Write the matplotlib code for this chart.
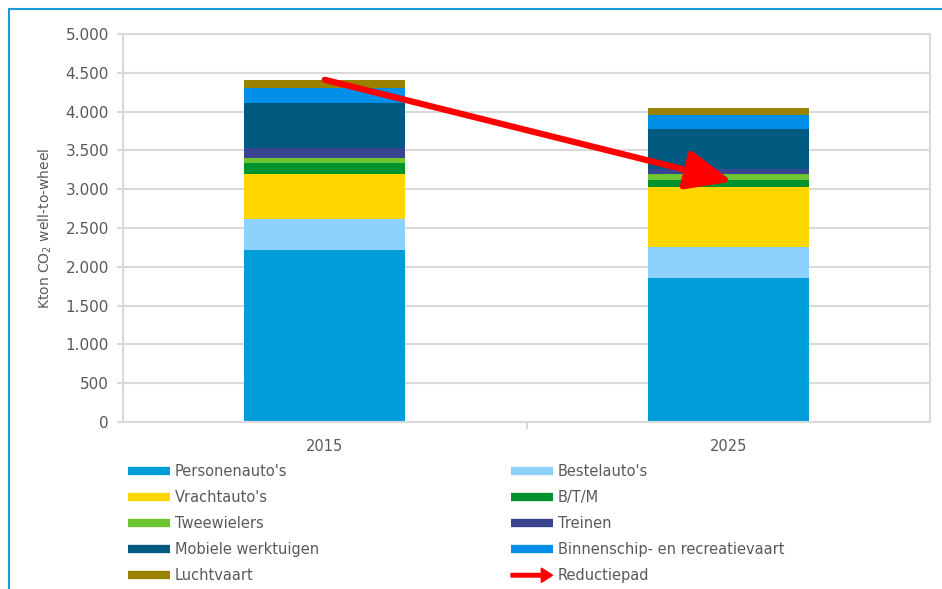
import matplotlib.pyplot as plt
import matplotlib.patches as mpatches
from matplotlib.lines import Line2D
from matplotlib.legend_handler import HandlerPatch
import numpy as np

years = ['2015', '2025']
categories = ["Personenauto's", "Bestelauto's", "Vrachtauto's", "B/T/M", "Tweewielers",
              "Treinen", "Mobiele werktuigen", "Binnenschip- en recreatievaart", "Luchtvaart"]
personenautos = [2222, 1850]
bestelautos = [394, 400]
vrachtautos = [585, 777]
btm = [137, 96]
tweewielers = [69, 68]
treinen = [124, 68]
mobiele_werktuigen = [576, 521]
binnenschip = [202, 175]
luchtvaart = [94, 96]
colors = ['#009ed8', '#8dd1fc', '#fed700', '#00922e', '#6cc531',
          '#3a4592', '#005a80', '#0090e8', '#9a8200']

# reductiepad: start op top 2015, eind in 2025
reductie_start = 4410
reductie_end = 3100

series = [personenautos, bestelautos, vrachtautos, btm, tweewielers,
          treinen, mobiele_werktuigen, binnenschip, luchtvaart]

grey_text = '#595959'
grid_col = '#d9d9d9'

fig = plt.figure(figsize=(9.42, 5.89), dpi=100)
ax = fig.add_axes([123 / 942, 1 - 422 / 589, (930 - 123) / 942, (422 - 34) / 589])

x = np.arange(len(years))
bottom = np.zeros(len(years))
for vals, col, lab in zip(series, colors, categories):
    ax.bar(x, vals, 0.4, bottom=bottom, color=col, label=lab, zorder=2)
    bottom += np.array(vals)

ax.set_xlim(-0.5, 1.5)
ax.set_ylim(0, 5000)
ax.set_yticks(np.arange(0, 5001, 500))
ax.set_yticklabels([f"{v:,}".replace(',', '.') for v in range(0, 5001, 500)])
ax.set_xticks(x)
ax.set_xticklabels(years)
ax.set_xticks([0.5], minor=True)
ax.tick_params(axis='x', which='major', length=0, pad=12, labelsize=10.5, colors=grey_text)
ax.tick_params(axis='x', which='minor', length=5, width=1.5, color=grid_col)
ax.tick_params(axis='y', length=4, width=1.5, color=grid_col, labelsize=11,
               labelcolor=grey_text, pad=6)
ax.grid(axis='y', color=grid_col, linewidth=1.5, zorder=0)
ax.set_axisbelow(True)
for s in ax.spines.values():
    s.set_color(grid_col)
    s.set_linewidth(1.5)
ax.set_ylabel('Kton CO$_2$ well-to-wheel', fontsize=10, color=grey_text, labelpad=8)

ax.annotate('', xy=(1.01, reductie_end), xytext=(0, reductie_start),
            arrowprops=dict(arrowstyle='-|>,head_length=1.4,head_width=0.6',
                            color='#ff0000', lw=4.5, mutation_scale=20,
                            shrinkA=0, shrinkB=0), zorder=5)

# blauwe kader
fig.add_artist(Line2D([9 / 942, 9 / 942], [0, 1 - 9 / 589], color='#1a9bd7', lw=1.5))
fig.add_artist(Line2D([9 / 942, 1], [1 - 9 / 589, 1 - 9 / 589], color='#1a9bd7', lw=1.5))

# legenda
def make_arrow(legend, orig_handle, xdescent, ydescent, width, height, fontsize):
    return mpatches.FancyArrow(-xdescent, height / 2 - ydescent, width, 0, width=height * 0.35,
                               head_width=height * 1.4, head_length=height * 1.1,
                               length_includes_head=True, color='#ff0000', lw=0)

handles = [Line2D([], [], color=c, lw=6, solid_capstyle='butt') for c in colors]
arrow_handle = mpatches.FancyArrow(0, 0, 1, 0, color='#ff0000')
left_idx = [0, 2, 4, 6, 8]
right_idx = [1, 3, 5, 7]
leg_kw = dict(loc='upper left', frameon=False, fontsize=10.5, handlelength=2.85,
              handletextpad=0.35, labelspacing=0.76, borderaxespad=0, borderpad=0,
              labelcolor=grey_text)
fig.legend([handles[i] for i in left_idx], [categories[i] for i in left_idx],
           bbox_to_anchor=(128 / 942, 1 - 464 / 589), **leg_kw)
fig.legend([handles[i] for i in right_idx] + [arrow_handle],
           [categories[i] for i in right_idx] + ['Reductiepad'],
           bbox_to_anchor=(511 / 942, 1 - 464 / 589),
           handler_map={arrow_handle: HandlerPatch(patch_func=make_arrow)}, **leg_kw)

fig.savefig('out.png', dpi=100)
